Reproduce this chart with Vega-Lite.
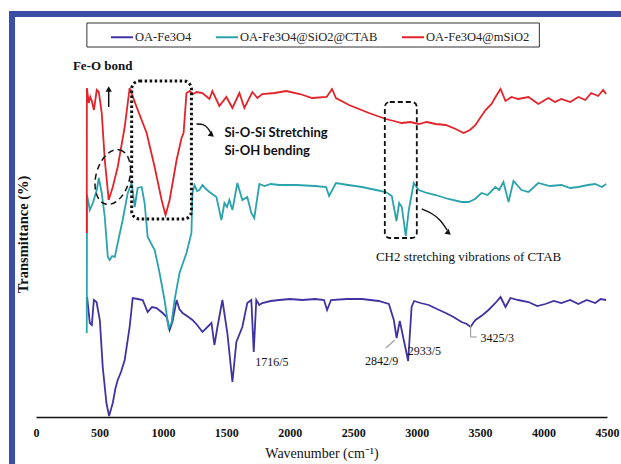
{
  "$schema": "https://vega.github.io/schema/vega-lite/v6.json",
  "width": 571,
  "height": 400,
  "autosize": {"type": "none"},
  "padding": {"left": 36, "top": 17, "right": 14, "bottom": 47},
  "background": "white",
  "config": {"view": {"stroke": null}},
  "datasets": {
    "spec": [
      {"s":"OA-Fe3O4","w":403,"T":120},{"s":"OA-Fe3O4","w":424,"T":94},{"s":"OA-Fe3O4","w":440,"T":92},{"s":"OA-Fe3O4","w":456,"T":117},{"s":"OA-Fe3O4","w":477,"T":115},{"s":"OA-Fe3O4","w":503,"T":97},{"s":"OA-Fe3O4","w":526,"T":50},{"s":"OA-Fe3O4","w":555,"T":14},{"s":"OA-Fe3O4","w":576,"T":1},{"s":"OA-Fe3O4","w":605,"T":14},{"s":"OA-Fe3O4","w":625,"T":28},{"s":"OA-Fe3O4","w":644,"T":37},{"s":"OA-Fe3O4","w":670,"T":45},{"s":"OA-Fe3O4","w":699,"T":57},{"s":"OA-Fe3O4","w":738,"T":90},{"s":"OA-Fe3O4","w":762,"T":119},{"s":"OA-Fe3O4","w":800,"T":118},{"s":"OA-Fe3O4","w":841,"T":117},{"s":"OA-Fe3O4","w":880,"T":105},{"s":"OA-Fe3O4","w":915,"T":110},{"s":"OA-Fe3O4","w":951,"T":109},{"s":"OA-Fe3O4","w":998,"T":104},{"s":"OA-Fe3O4","w":1030,"T":100},{"s":"OA-Fe3O4","w":1053,"T":87},{"s":"OA-Fe3O4","w":1075,"T":95},{"s":"OA-Fe3O4","w":1108,"T":117},{"s":"OA-Fe3O4","w":1130,"T":108},{"s":"OA-Fe3O4","w":1155,"T":104},{"s":"OA-Fe3O4","w":1190,"T":101},{"s":"OA-Fe3O4","w":1233,"T":97},{"s":"OA-Fe3O4","w":1270,"T":92},{"s":"OA-Fe3O4","w":1312,"T":85},{"s":"OA-Fe3O4","w":1383,"T":94},{"s":"OA-Fe3O4","w":1406,"T":72},{"s":"OA-Fe3O4","w":1430,"T":90},{"s":"OA-Fe3O4","w":1469,"T":117},{"s":"OA-Fe3O4","w":1508,"T":84},{"s":"OA-Fe3O4","w":1548,"T":35},{"s":"OA-Fe3O4","w":1579,"T":75},{"s":"OA-Fe3O4","w":1626,"T":90},{"s":"OA-Fe3O4","w":1665,"T":114},{"s":"OA-Fe3O4","w":1697,"T":117},{"s":"OA-Fe3O4","w":1716,"T":65},{"s":"OA-Fe3O4","w":1736,"T":117},{"s":"OA-Fe3O4","w":1760,"T":112},{"s":"OA-Fe3O4","w":1783,"T":114},{"s":"OA-Fe3O4","w":1850,"T":116},{"s":"OA-Fe3O4","w":1917,"T":117},{"s":"OA-Fe3O4","w":2000,"T":118},{"s":"OA-Fe3O4","w":2100,"T":117},{"s":"OA-Fe3O4","w":2200,"T":118},{"s":"OA-Fe3O4","w":2270,"T":117},{"s":"OA-Fe3O4","w":2294,"T":107},{"s":"OA-Fe3O4","w":2325,"T":117},{"s":"OA-Fe3O4","w":2450,"T":118},{"s":"OA-Fe3O4","w":2569,"T":118},{"s":"OA-Fe3O4","w":2700,"T":116},{"s":"OA-Fe3O4","w":2781,"T":113},{"s":"OA-Fe3O4","w":2820,"T":97},{"s":"OA-Fe3O4","w":2842,"T":79},{"s":"OA-Fe3O4","w":2867,"T":96},{"s":"OA-Fe3O4","w":2933,"T":56},{"s":"OA-Fe3O4","w":2960,"T":110},{"s":"OA-Fe3O4","w":2980,"T":116},{"s":"OA-Fe3O4","w":3030,"T":114},{"s":"OA-Fe3O4","w":3095,"T":112},{"s":"OA-Fe3O4","w":3160,"T":108},{"s":"OA-Fe3O4","w":3229,"T":104},{"s":"OA-Fe3O4","w":3290,"T":100},{"s":"OA-Fe3O4","w":3354,"T":95},{"s":"OA-Fe3O4","w":3395,"T":93},{"s":"OA-Fe3O4","w":3425,"T":90},{"s":"OA-Fe3O4","w":3445,"T":94},{"s":"OA-Fe3O4","w":3464,"T":97},{"s":"OA-Fe3O4","w":3520,"T":102},{"s":"OA-Fe3O4","w":3566,"T":107},{"s":"OA-Fe3O4","w":3621,"T":114},{"s":"OA-Fe3O4","w":3661,"T":120},{"s":"OA-Fe3O4","w":3700,"T":110},{"s":"OA-Fe3O4","w":3739,"T":119},{"s":"OA-Fe3O4","w":3800,"T":117},{"s":"OA-Fe3O4","w":3881,"T":115},{"s":"OA-Fe3O4","w":3950,"T":111},{"s":"OA-Fe3O4","w":4014,"T":113},{"s":"OA-Fe3O4","w":4080,"T":116},{"s":"OA-Fe3O4","w":4140,"T":114},{"s":"OA-Fe3O4","w":4210,"T":117},{"s":"OA-Fe3O4","w":4274,"T":113},{"s":"OA-Fe3O4","w":4340,"T":117},{"s":"OA-Fe3O4","w":4407,"T":114},{"s":"OA-Fe3O4","w":4450,"T":118},{"s":"OA-Fe3O4","w":4493,"T":117},

      {"s":"OA-Fe3O4@SiO2@CTAB","w":400,"T":84},{"s":"OA-Fe3O4@SiO2@CTAB","w":402,"T":222},{"s":"OA-Fe3O4@SiO2@CTAB","w":424,"T":207},{"s":"OA-Fe3O4@SiO2@CTAB","w":448,"T":214},{"s":"OA-Fe3O4@SiO2@CTAB","w":479,"T":227},{"s":"OA-Fe3O4@SiO2@CTAB","w":495,"T":239},{"s":"OA-Fe3O4@SiO2@CTAB","w":518,"T":224},{"s":"OA-Fe3O4@SiO2@CTAB","w":542,"T":200},{"s":"OA-Fe3O4@SiO2@CTAB","w":566,"T":160},{"s":"OA-Fe3O4@SiO2@CTAB","w":581,"T":157},{"s":"OA-Fe3O4@SiO2@CTAB","w":600,"T":161},{"s":"OA-Fe3O4@SiO2@CTAB","w":621,"T":160},{"s":"OA-Fe3O4@SiO2@CTAB","w":644,"T":174},{"s":"OA-Fe3O4@SiO2@CTAB","w":683,"T":197},{"s":"OA-Fe3O4@SiO2@CTAB","w":723,"T":224},{"s":"OA-Fe3O4@SiO2@CTAB","w":754,"T":234},{"s":"OA-Fe3O4@SiO2@CTAB","w":778,"T":210},{"s":"OA-Fe3O4@SiO2@CTAB","w":801,"T":229},{"s":"OA-Fe3O4@SiO2@CTAB","w":833,"T":230},{"s":"OA-Fe3O4@SiO2@CTAB","w":856,"T":214},{"s":"OA-Fe3O4@SiO2@CTAB","w":880,"T":180},{"s":"OA-Fe3O4@SiO2@CTAB","w":935,"T":167},{"s":"OA-Fe3O4@SiO2@CTAB","w":974,"T":144},{"s":"OA-Fe3O4@SiO2@CTAB","w":1013,"T":117},{"s":"OA-Fe3O4@SiO2@CTAB","w":1045,"T":89},{"s":"OA-Fe3O4@SiO2@CTAB","w":1068,"T":94},{"s":"OA-Fe3O4@SiO2@CTAB","w":1092,"T":117},{"s":"OA-Fe3O4@SiO2@CTAB","w":1131,"T":144},{"s":"OA-Fe3O4@SiO2@CTAB","w":1186,"T":164},{"s":"OA-Fe3O4@SiO2@CTAB","w":1225,"T":184},{"s":"OA-Fe3O4@SiO2@CTAB","w":1233,"T":224},{"s":"OA-Fe3O4@SiO2@CTAB","w":1249,"T":232},{"s":"OA-Fe3O4@SiO2@CTAB","w":1270,"T":226},{"s":"OA-Fe3O4@SiO2@CTAB","w":1288,"T":227},{"s":"OA-Fe3O4@SiO2@CTAB","w":1312,"T":232},{"s":"OA-Fe3O4@SiO2@CTAB","w":1340,"T":228},{"s":"OA-Fe3O4@SiO2@CTAB","w":1367,"T":225},{"s":"OA-Fe3O4@SiO2@CTAB","w":1422,"T":220},{"s":"OA-Fe3O4@SiO2@CTAB","w":1461,"T":197},{"s":"OA-Fe3O4@SiO2@CTAB","w":1485,"T":214},{"s":"OA-Fe3O4@SiO2@CTAB","w":1505,"T":210},{"s":"OA-Fe3O4@SiO2@CTAB","w":1524,"T":217},{"s":"OA-Fe3O4@SiO2@CTAB","w":1548,"T":207},{"s":"OA-Fe3O4@SiO2@CTAB","w":1587,"T":234},{"s":"OA-Fe3O4@SiO2@CTAB","w":1626,"T":217},{"s":"OA-Fe3O4@SiO2@CTAB","w":1665,"T":220},{"s":"OA-Fe3O4@SiO2@CTAB","w":1697,"T":204},{"s":"OA-Fe3O4@SiO2@CTAB","w":1720,"T":199},{"s":"OA-Fe3O4@SiO2@CTAB","w":1760,"T":233},{"s":"OA-Fe3O4@SiO2@CTAB","w":1800,"T":231},{"s":"OA-Fe3O4@SiO2@CTAB","w":1850,"T":233},{"s":"OA-Fe3O4@SiO2@CTAB","w":1917,"T":232},{"s":"OA-Fe3O4@SiO2@CTAB","w":2050,"T":232},{"s":"OA-Fe3O4@SiO2@CTAB","w":2200,"T":231},{"s":"OA-Fe3O4@SiO2@CTAB","w":2286,"T":230},{"s":"OA-Fe3O4@SiO2@CTAB","w":2310,"T":221},{"s":"OA-Fe3O4@SiO2@CTAB","w":2364,"T":234},{"s":"OA-Fe3O4@SiO2@CTAB","w":2460,"T":232},{"s":"OA-Fe3O4@SiO2@CTAB","w":2569,"T":230},{"s":"OA-Fe3O4@SiO2@CTAB","w":2680,"T":227},{"s":"OA-Fe3O4@SiO2@CTAB","w":2757,"T":225},{"s":"OA-Fe3O4@SiO2@CTAB","w":2804,"T":221},{"s":"OA-Fe3O4@SiO2@CTAB","w":2841,"T":196},{"s":"OA-Fe3O4@SiO2@CTAB","w":2862,"T":214},{"s":"OA-Fe3O4@SiO2@CTAB","w":2883,"T":210},{"s":"OA-Fe3O4@SiO2@CTAB","w":2914,"T":181},{"s":"OA-Fe3O4@SiO2@CTAB","w":2938,"T":207},{"s":"OA-Fe3O4@SiO2@CTAB","w":2977,"T":234},{"s":"OA-Fe3O4@SiO2@CTAB","w":3016,"T":227},{"s":"OA-Fe3O4@SiO2@CTAB","w":3080,"T":224},{"s":"OA-Fe3O4@SiO2@CTAB","w":3150,"T":222},{"s":"OA-Fe3O4@SiO2@CTAB","w":3250,"T":218},{"s":"OA-Fe3O4@SiO2@CTAB","w":3354,"T":215},{"s":"OA-Fe3O4@SiO2@CTAB","w":3409,"T":215},{"s":"OA-Fe3O4@SiO2@CTAB","w":3460,"T":218},{"s":"OA-Fe3O4@SiO2@CTAB","w":3511,"T":224},{"s":"OA-Fe3O4@SiO2@CTAB","w":3560,"T":222},{"s":"OA-Fe3O4@SiO2@CTAB","w":3621,"T":230},{"s":"OA-Fe3O4@SiO2@CTAB","w":3650,"T":227},{"s":"OA-Fe3O4@SiO2@CTAB","w":3684,"T":235},{"s":"OA-Fe3O4@SiO2@CTAB","w":3724,"T":215},{"s":"OA-Fe3O4@SiO2@CTAB","w":3763,"T":236},{"s":"OA-Fe3O4@SiO2@CTAB","w":3826,"T":227},{"s":"OA-Fe3O4@SiO2@CTAB","w":3881,"T":225},{"s":"OA-Fe3O4@SiO2@CTAB","w":3959,"T":234},{"s":"OA-Fe3O4@SiO2@CTAB","w":4050,"T":231},{"s":"OA-Fe3O4@SiO2@CTAB","w":4140,"T":232},{"s":"OA-Fe3O4@SiO2@CTAB","w":4210,"T":229},{"s":"OA-Fe3O4@SiO2@CTAB","w":4274,"T":230},{"s":"OA-Fe3O4@SiO2@CTAB","w":4350,"T":232},{"s":"OA-Fe3O4@SiO2@CTAB","w":4407,"T":233},{"s":"OA-Fe3O4@SiO2@CTAB","w":4460,"T":230},{"s":"OA-Fe3O4@SiO2@CTAB","w":4493,"T":233},

      {"s":"OA-Fe3O4@mSiO2","w":400,"T":184},{"s":"OA-Fe3O4@mSiO2","w":401,"T":329},{"s":"OA-Fe3O4@mSiO2","w":416,"T":314},{"s":"OA-Fe3O4@mSiO2","w":428,"T":320},{"s":"OA-Fe3O4@mSiO2","w":440,"T":316},{"s":"OA-Fe3O4@mSiO2","w":456,"T":307},{"s":"OA-Fe3O4@mSiO2","w":479,"T":327},{"s":"OA-Fe3O4@mSiO2","w":495,"T":325},{"s":"OA-Fe3O4@mSiO2","w":518,"T":304},{"s":"OA-Fe3O4@mSiO2","w":542,"T":257},{"s":"OA-Fe3O4@mSiO2","w":573,"T":217},{"s":"OA-Fe3O4@mSiO2","w":605,"T":230},{"s":"OA-Fe3O4@mSiO2","w":644,"T":250},{"s":"OA-Fe3O4@mSiO2","w":699,"T":290},{"s":"OA-Fe3O4@mSiO2","w":738,"T":329},{"s":"OA-Fe3O4@mSiO2","w":793,"T":310},{"s":"OA-Fe3O4@mSiO2","w":872,"T":284},{"s":"OA-Fe3O4@mSiO2","w":935,"T":250},{"s":"OA-Fe3O4@mSiO2","w":990,"T":217},{"s":"OA-Fe3O4@mSiO2","w":1021,"T":202},{"s":"OA-Fe3O4@mSiO2","w":1053,"T":217},{"s":"OA-Fe3O4@mSiO2","w":1108,"T":257},{"s":"OA-Fe3O4@mSiO2","w":1147,"T":279},{"s":"OA-Fe3O4@mSiO2","w":1163,"T":284},{"s":"OA-Fe3O4@mSiO2","w":1186,"T":324},{"s":"OA-Fe3O4@mSiO2","w":1210,"T":326},{"s":"OA-Fe3O4@mSiO2","w":1240,"T":323},{"s":"OA-Fe3O4@mSiO2","w":1265,"T":325},{"s":"OA-Fe3O4@mSiO2","w":1312,"T":324},{"s":"OA-Fe3O4@mSiO2","w":1367,"T":318},{"s":"OA-Fe3O4@mSiO2","w":1390,"T":326},{"s":"OA-Fe3O4@mSiO2","w":1445,"T":311},{"s":"OA-Fe3O4@mSiO2","w":1500,"T":320},{"s":"OA-Fe3O4@mSiO2","w":1548,"T":309},{"s":"OA-Fe3O4@mSiO2","w":1603,"T":324},{"s":"OA-Fe3O4@mSiO2","w":1642,"T":309},{"s":"OA-Fe3O4@mSiO2","w":1705,"T":325},{"s":"OA-Fe3O4@mSiO2","w":1745,"T":319},{"s":"OA-Fe3O4@mSiO2","w":1783,"T":323},{"s":"OA-Fe3O4@mSiO2","w":1880,"T":324},{"s":"OA-Fe3O4@mSiO2","w":1972,"T":326},{"s":"OA-Fe3O4@mSiO2","w":2080,"T":323},{"s":"OA-Fe3O4@mSiO2","w":2176,"T":319},{"s":"OA-Fe3O4@mSiO2","w":2290,"T":320},{"s":"OA-Fe3O4@mSiO2","w":2333,"T":328},{"s":"OA-Fe3O4@mSiO2","w":2364,"T":319},{"s":"OA-Fe3O4@mSiO2","w":2467,"T":312},{"s":"OA-Fe3O4@mSiO2","w":2624,"T":304},{"s":"OA-Fe3O4@mSiO2","w":2757,"T":298},{"s":"OA-Fe3O4@mSiO2","w":2820,"T":296},{"s":"OA-Fe3O4@mSiO2","w":2883,"T":294},{"s":"OA-Fe3O4@mSiO2","w":2950,"T":295},{"s":"OA-Fe3O4@mSiO2","w":3016,"T":293},{"s":"OA-Fe3O4@mSiO2","w":3080,"T":295},{"s":"OA-Fe3O4@mSiO2","w":3150,"T":293},{"s":"OA-Fe3O4@mSiO2","w":3230,"T":292},{"s":"OA-Fe3O4@mSiO2","w":3307,"T":288},{"s":"OA-Fe3O4@mSiO2","w":3370,"T":284},{"s":"OA-Fe3O4@mSiO2","w":3420,"T":287},{"s":"OA-Fe3O4@mSiO2","w":3464,"T":292},{"s":"OA-Fe3O4@mSiO2","w":3505,"T":300},{"s":"OA-Fe3O4@mSiO2","w":3543,"T":307},{"s":"OA-Fe3O4@mSiO2","w":3590,"T":313},{"s":"OA-Fe3O4@mSiO2","w":3621,"T":320},{"s":"OA-Fe3O4@mSiO2","w":3661,"T":328},{"s":"OA-Fe3O4@mSiO2","w":3700,"T":316},{"s":"OA-Fe3O4@mSiO2","w":3747,"T":320},{"s":"OA-Fe3O4@mSiO2","w":3800,"T":318},{"s":"OA-Fe3O4@mSiO2","w":3881,"T":320},{"s":"OA-Fe3O4@mSiO2","w":3959,"T":313},{"s":"OA-Fe3O4@mSiO2","w":4038,"T":319},{"s":"OA-Fe3O4@mSiO2","w":4090,"T":315},{"s":"OA-Fe3O4@mSiO2","w":4140,"T":318},{"s":"OA-Fe3O4@mSiO2","w":4210,"T":315},{"s":"OA-Fe3O4@mSiO2","w":4274,"T":320},{"s":"OA-Fe3O4@mSiO2","w":4330,"T":317},{"s":"OA-Fe3O4@mSiO2","w":4375,"T":324},{"s":"OA-Fe3O4@mSiO2","w":4430,"T":321},{"s":"OA-Fe3O4@mSiO2","w":4470,"T":327},{"s":"OA-Fe3O4@mSiO2","w":4493,"T":323}
    ],
    "frame": [{"w": -189, "w2": 5300, "T": 403, "T2": -120}],
    "legbox": [{"w": 401, "w2": 3967, "T": 394, "T2": 370}],
    "boxes": [
      {"k": "dot", "w": 754, "w2": 1225, "T": 336, "T2": 198},
      {"k": "dash", "w": 2749, "w2": 3001, "T": 315, "T2": 179}
    ],
    "ellipse": [{"w": 605, "T": 240}],
    "rules": [
      {"k": "black", "w": 573, "w2": 573, "T": 310, "T2": 327},
      {"k": "grey", "w": 2757, "w2": 2828, "T": 69, "T2": 77},
      {"k": "grey", "w": 3425, "w2": 3425, "T": 92, "T2": 80},
      {"k": "grey", "w": 3425, "w2": 3472, "T": 80, "T2": 80}
    ],
    "arrows": [
      {"a": 1, "w": 1265, "T": 293},
      {"a": 1, "w": 1320, "T": 293},
      {"a": 1, "w": 1355, "T": 289},
      {"a": 1, "w": 1378, "T": 284},
      {"a": 2, "w": 3040, "T": 208},
      {"a": 2, "w": 3119, "T": 204},
      {"a": 2, "w": 3189, "T": 197},
      {"a": 2, "w": 3240, "T": 187}
    ],
    "heads": [
      {"w": 573, "T": 328, "ang": -90},
      {"w": 1385, "T": 282, "ang": 40},
      {"w": 3252, "T": 184, "ang": 40}
    ],
    "txt": [
      {"g": "feo", "w": 291, "T": 351, "label": "Fe-O bond"},
      {"g": "sans", "w": 1485, "T": 284, "label": "Si-O-Si Stretching"},
      {"g": "sans", "w": 1485, "T": 266, "label": "Si-OH bending"},
      {"g": "ch2", "w": 2679, "T": 160, "label": "CH2 stretching vibrations of  CTAB"},
      {"g": "peak", "w": 1728, "T": 55, "label": "1716/5"},
      {"g": "peak", "w": 2592, "T": 56, "label": "2842/9"},
      {"g": "peak", "w": 2930, "T": 66, "label": "2933/5"},
      {"g": "peak", "w": 3504, "T": 79, "label": "3425/3"}
    ]
  },
  "encoding": {
    "x": {
      "field": "w", "type": "quantitative",
      "scale": {"domain": [0, 4500], "nice": false, "zero": false},
      "axis": {
        "title": "Wavenumber (cm⁻¹)",
        "values": [0, 500, 1000, 1500, 2000, 2500, 3000, 3500, 4000, 4500],
        "format": "d",
        "grid": false, "ticks": false, "tickSize": 0,
        "labelFlush": false, "labelPadding": 10, "labelBaseline": "top",
        "labelFont": "Liberation Serif", "labelFontSize": 12, "labelFontWeight": "bold", "labelColor": "#111",
        "domainColor": "#111", "domainWidth": 1.5,
        "titleFont": "Liberation Serif", "titleFontSize": 14, "titleFontWeight": "normal", "titleColor": "#111",
        "titleY": 36, "titleBaseline": "middle"
      }
    },
    "y": {
      "field": "T", "type": "quantitative",
      "scale": {"domain": [0, 400], "nice": false, "zero": false},
      "axis": {
        "title": "Transmittance (%)",
        "grid": false, "ticks": false, "labels": false, "domain": false,
        "titleFont": "Liberation Serif", "titleFontSize": 14.5, "titleFontWeight": "bold", "titleColor": "#111",
        "titleX": -13, "titleY": 217, "titleBaseline": "middle", "titleAlign": "center", "titleAngle": -90
      }
    }
  },
  "layer": [
    {
      "data": {"name": "frame"},
      "mark": {"type": "rect", "fill": null, "stroke": "#3b4ea6", "strokeWidth": 6},
      "encoding": {"x2": {"field": "w2"}, "y2": {"field": "T2"}}
    },
    {
      "data": {"name": "legbox"},
      "mark": {"type": "rect", "fill": null, "stroke": "#333", "strokeWidth": 1},
      "encoding": {"x2": {"field": "w2"}, "y2": {"field": "T2"}}
    },
    {
      "data": {"name": "spec"},
      "mark": {"type": "line", "strokeWidth": 1.8},
      "encoding": {
        "color": {
          "field": "s", "type": "nominal",
          "scale": {"domain": ["OA-Fe3O4", "OA-Fe3O4@SiO2@CTAB", "OA-Fe3O4@mSiO2"], "range": ["#3f33a3", "#2aa3ad", "#e2232a"]},
          "legend": {
            "orient": "none", "legendX": 74, "legendY": 8, "direction": "horizontal", "title": null,
            "symbolType": "stroke", "symbolSize": 484, "symbolStrokeWidth": 2,
            "labelFont": "Liberation Serif", "labelFontSize": 12.5, "labelColor": "#222",
            "columnPadding": 20, "labelOffset": 1, "padding": 0
          }
        }
      }
    },
    {
      "data": {"name": "boxes"},
      "transform": [{"filter": "datum.k === 'dot'"}],
      "mark": {"type": "rect", "fill": null, "stroke": "#111", "strokeWidth": 3, "strokeDash": [2.5, 2.5], "cornerRadius": 8},
      "encoding": {"x2": {"field": "w2"}, "y2": {"field": "T2"}}
    },
    {
      "data": {"name": "boxes"},
      "transform": [{"filter": "datum.k === 'dash'"}],
      "mark": {"type": "rect", "fill": null, "stroke": "#111", "strokeWidth": 1.8, "strokeDash": [5, 3], "cornerRadius": 5},
      "encoding": {"x2": {"field": "w2"}, "y2": {"field": "T2"}}
    },
    {
      "data": {"name": "ellipse"},
      "mark": {"type": "point", "shape": "M 0 -1 A 0.6 1 0 1 1 0 1 A 0.6 1 0 1 1 0 -1 Z", "size": 3136, "angle": 15, "filled": false, "stroke": "#111", "strokeWidth": 1.5, "strokeDash": [6, 4], "opacity": 1}
    },
    {
      "data": {"name": "rules"},
      "transform": [{"filter": "datum.k === 'black'"}],
      "mark": {"type": "rule", "color": "#111", "strokeWidth": 1.5},
      "encoding": {"x2": {"field": "w2"}, "y2": {"field": "T2"}}
    },
    {
      "data": {"name": "rules"},
      "transform": [{"filter": "datum.k === 'grey'"}],
      "mark": {"type": "rule", "color": "#a0a0a0", "strokeWidth": 1.2},
      "encoding": {"x2": {"field": "w2"}, "y2": {"field": "T2"}}
    },
    {
      "data": {"name": "arrows"},
      "mark": {"type": "line", "color": "#111", "strokeWidth": 1.4, "interpolate": "basis"},
      "encoding": {"detail": {"field": "a", "type": "nominal"}}
    },
    {
      "data": {"name": "heads"},
      "mark": {"type": "point", "shape": "triangle-right", "filled": true, "color": "#111", "size": 40, "opacity": 1},
      "encoding": {"angle": {"field": "ang", "type": "quantitative", "scale": null}}
    },
    {
      "data": {"name": "txt"},
      "transform": [{"filter": "datum.g === 'feo'"}],
      "mark": {"type": "text", "align": "left", "baseline": "middle", "font": "Liberation Serif", "fontSize": 13, "fontWeight": "bold", "color": "#111"},
      "encoding": {"text": {"field": "label"}}
    },
    {
      "data": {"name": "txt"},
      "transform": [{"filter": "datum.g === 'sans'"}],
      "mark": {"type": "text", "align": "left", "baseline": "middle", "font": "Lato", "fontSize": 13, "fontWeight": "bold", "color": "#111"},
      "encoding": {"text": {"field": "label"}}
    },
    {
      "data": {"name": "txt"},
      "transform": [{"filter": "datum.g === 'ch2'"}],
      "mark": {"type": "text", "align": "left", "baseline": "middle", "font": "Liberation Serif", "fontSize": 13, "color": "#111"},
      "encoding": {"text": {"field": "label"}}
    },
    {
      "data": {"name": "txt"},
      "transform": [{"filter": "datum.g === 'peak'"}],
      "mark": {"type": "text", "align": "left", "baseline": "middle", "font": "Liberation Serif", "fontSize": 12, "color": "#111"},
      "encoding": {"text": {"field": "label"}}
    }
  ]
}
